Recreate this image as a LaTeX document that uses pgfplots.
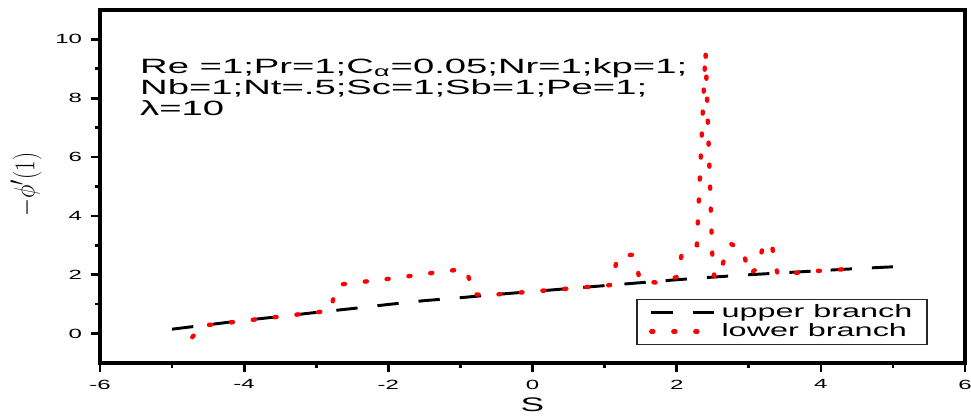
\documentclass[border=0pt]{standalone}
\usepackage{fontspec}
\setmainfont{Liberation Sans}
\usepackage{graphicx}
\usepackage{pgfplots}
\pgfplotsset{compat=1.18}
\newcommand{\hs}[1]{\scalebox{1.8}[1]{#1}}
\begin{document}
\begin{tikzpicture}
\begin{axis}[
  scale only axis, width=648.75pt, height=264.75pt,
  xmin=-6, xmax=6, ymin=-1, ymax=11,
  xtick={-6,-4,...,6}, ytick={0,2,...,10},
  xticklabels={\hs{-6},\hs{-4},\hs{-2},\hs{0},\hs{2},\hs{4},\hs{6}},
  yticklabels={\hs{0},\hs{2},\hs{4},\hs{6},\hs{8},\hs{10}},
  minor tick num=1,
  tick align=outside, tick pos=left,
  major tick length=7pt, minor tick length=3.5pt,
  tick style={line width=2pt, black},
  axis line style={line width=2.4pt},
  tick label style={font=\fontsize{10}{10}\selectfont},
  xticklabel style={yshift=-2pt},
  yticklabel style={xshift=-3pt},
  xlabel={\hs{S}},
  xlabel style={font=\fontsize{14.7}{14.7}\selectfont, at={(rel axis cs:0.5,-0.119)}, anchor=center},
  ylabel={\scalebox{1}[1.25]{$-\phi'(1)$}},
  ylabel style={font=\fontsize{19}{19}\selectfont, at={(rel axis cs:-0.0855,0.505)}, anchor=center},
  legend style={at={(rel axis cs:0.957,0.051)}, anchor=south east,
    draw=black!85, line width=1pt, fill=white,
    font=\fontsize{13.5}{13.5}\selectfont, cells={anchor=west},
    inner xsep=9pt, inner ysep=2pt, row sep=-1pt},
  legend image code/.code={\draw[#1] (0pt,0pt) -- (49pt,0pt);},
  clip=false,
]
\addplot[black, line width=2.2pt, dash pattern=on 16pt off 15pt] coordinates {
  (-5,0.15)(-4.5,0.3)(-4,0.45)(-3.5,0.58)(-3,0.72)(-2.5,0.85)(-2,0.99)
  (-1.5,1.12)(-1,1.22)(-0.5,1.33)(0,1.43)(0.5,1.53)(1,1.63)(1.5,1.73)
  (2,1.83)(2.5,1.92)(3,2.0)(3.5,2.07)(4,2.14)(4.5,2.21)(5,2.27)};
\addlegendentry{\hs{upper branch}}
\addplot[red, line width=3.3pt, line cap=round, dash pattern=on 1.5pt off 15pt] coordinates {
  (-4.72,-0.12)(-4.58,0.27)(-4.22,0.37)(-3.5,0.58)(-2.8,0.78)(-2.76,1.22)
  (-2.69,1.66)(-2.35,1.76)(-2.0,1.86)(-1.63,1.98)(-1.28,2.1)(-0.93,2.2)
  (-0.87,1.8)(-0.83,1.33)(-0.5,1.33)(0,1.43)(0.5,1.53)(1.08,1.65)
  (1.14,2.2)(1.19,2.64)(1.39,2.68)(1.45,2.27)(1.49,1.78)(1.75,1.73)
  (2.01,1.93)(2.04,2.37)(2.08,2.78)(2.28,3.0)(2.4,9.6)(2.49,3.0)
  (2.5,2.27)(2.53,1.86)(2.63,2.24)(2.67,2.68)(2.75,3.05)(2.92,2.85)
  (2.96,2.43)(3.0,2.0)(3.13,2.24)(3.17,2.68)(3.21,3.12)(3.33,2.88)
  (3.36,2.47)(3.4,2.03)(3.75,2.08)(4.0,2.14)(4.5,2.21)};
\addlegendentry{\hs{lower branch}}
\node[anchor=north west, inner sep=0pt, align=left,
  font=\fontsize{15.5}{15.5}\selectfont] at (rel axis cs:0.0462,0.862)
  {\scalebox{1.85}[1]{Re =1;Pr=1;C\textsubscript{α}=0.05;Nr=1;kp=1;}\\
   \scalebox{1.85}[1]{Nb=1;Nt=.5;Sc=1;Sb=1;Pe=1;}\\
   \scalebox{1.85}[1]{λ=10}};
\end{axis}
\pgfresetboundingbox
\path ([shift={(-75pt,-39.75pt)}]current axis.south west)
  rectangle ([shift={(4.5pt,7.5pt)}]current axis.north east);
\end{tikzpicture}
\end{document}
